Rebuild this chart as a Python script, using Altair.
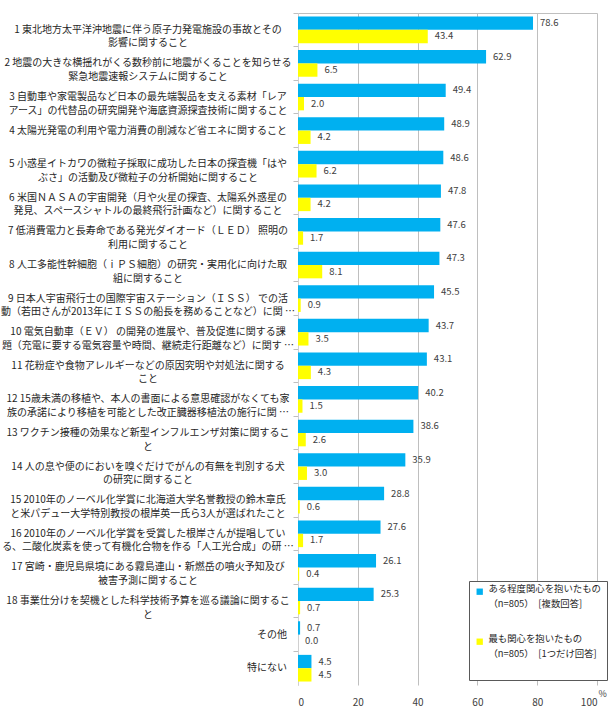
import json
import altair as alt
import pandas as pd

FONT = "Noto Sans CJK JP"

labels = [
    "1 東北地方太平洋沖地震に伴う原子力発電施設の事故とその\n影響に関すること",
    "2 地震の大きな横揺れがくる数秒前に地震がくることを知らせる\n緊急地震速報システムに関すること",
    "3 自動車や家電製品など日本の最先端製品を支える素材「レア\nアース」の代替品の研究開発や海底資源探査技術に関すること",
    "4 太陽光発電の利用や電力消費の削減など省エネに関すること",
    "5 小惑星イトカワの微粒子採取に成功した日本の探査機「はや\nぶさ」の活動及び微粒子の分析開始に関すること",
    "6 米国ＮＡＳＡの宇宙開発（月や火星の探査、太陽系外惑星の\n発見、スペースシャトルの最終飛行計画など）に関すること",
    "7 低消費電力と長寿命である発光ダイオード（ＬＥＤ） 照明の\n利用に関すること",
    "8 人工多能性幹細胞（ｉＰＳ細胞）の研究・実用化に向けた取\n組に関すること",
    "9 日本人宇宙飛行士の国際宇宙ステーション（ＩＳＳ） での活\n動（若田さんが2013年にＩＳＳの船長を務めることなど）に関 …",
    "10 電気自動車（ＥＶ） の開発の進展や、普及促進に関する課\n題（充電に要する電気容量や時間、継続走行距離など）に関す …",
    "11 花粉症や食物アレルギーなどの原因究明や対処法に関する\nこと",
    "12 15歳未満の移植や、本人の書面による意思確認がなくても家\n族の承諾により移植を可能とした改正臓器移植法の施行に関 …",
    "13 ワクチン接種の効果など新型インフルエンザ対策に関するこ\nと",
    "14 人の息や便のにおいを嗅ぐだけでがんの有無を判別する犬\nの研究に関すること",
    "15 2010年のノーベル化学賞に北海道大学名誉教授の鈴木章氏\nと米パデュー大学特別教授の根岸英一氏ら3人が選ばれたこと",
    "16 2010年のノーベル化学賞を受賞した根岸さんが提唱してい\nる、二酸化炭素を使って有機化合物を作る「人工光合成」の研 …",
    "17 宮崎・鹿児島県境にある霧島連山・新燃岳の噴火予知及び\n被害予測に関すること",
    "18 事業仕分けを契機とした科学技術予算を巡る議論に関するこ\nと",
    "その他",
    "特にない",
]

blue_values = [78.6, 62.9, 49.4, 48.9, 48.6, 47.8, 47.6, 47.3, 45.5, 43.7,
               43.1, 40.2, 38.6, 35.9, 28.8, 27.6, 26.1, 25.3, 0.7, 4.5]
yellow_values = [43.4, 6.5, 2.0, 4.2, 6.2, 4.2, 1.7, 8.1, 0.9, 3.5,
                 4.3, 1.5, 2.6, 3.0, 0.6, 1.7, 0.4, 0.7, 0.0, 4.5]

series_keys = ["multi", "single"]
series_legend = [
    ["ある程度関心を抱いたもの", "（n=805）　[複数回答]", ""],
    ["最も関心を抱いたもの", "（n=805）　[1つだけ回答]", ""],
]
series_colors = ["#00B0F0", "#FFFF00"]
x_ticks = [0, 20, 40, 60, 80, 100]

cat_ids = [f"c{i:02d}" for i in range(len(labels))]

rows = []
for i, cid in enumerate(cat_ids):
    rows.append({"cat": cid, "series": series_keys[0], "value": blue_values[i]})
    rows.append({"cat": cid, "series": series_keys[1], "value": yellow_values[i]})
df = pd.DataFrame(rows)

lab_df = pd.DataFrame({"cat": cat_ids, "label": labels})
lab_multi = lab_df[lab_df["label"].str.contains("\n")]
lab_single = lab_df[~lab_df["label"].str.contains("\n")]

x_scale = alt.Scale(domain=[0, 100], nice=False)
y_enc = alt.Y(
    "cat:N", sort=cat_ids,
    scale=alt.Scale(domain=cat_ids, paddingInner=0, paddingOuter=0),
    axis=alt.Axis(labels=False, ticks=True, bandPosition=0, tickSize=5,
                  tickColor="#bfbfbf", domainColor="#d0d0d0", grid=False, title=None),
)
yoff = alt.YOffset("series:N", sort=series_keys,
                   scale=alt.Scale(domain=series_keys, paddingInner=0, paddingOuter=0.26))

label_expr = (f"datum.value == {json.dumps(series_keys[0])} ? "
              f"{json.dumps(series_legend[0], ensure_ascii=False)} : "
              f"{json.dumps(series_legend[1], ensure_ascii=False)}")

bars = alt.Chart(df).mark_bar().encode(
    x=alt.X("value:Q", scale=x_scale,
            axis=alt.Axis(values=x_ticks, grid=True, gridColor="#bfbfbf", ticks=False,
                          domain=False, labelPadding=12, labelFontSize=10,
                          labelColor="#404040", title="%", titleX=300, titleY=8,
                          titleAngle=0, titleAlign="left", titleBaseline="middle",
                          titleFontSize=9, titleFontWeight="normal", titleColor="#404040")),
    y=y_enc,
    yOffset=yoff,
    color=alt.Color("series:N", scale=alt.Scale(domain=series_keys, range=series_colors),
                    legend=alt.Legend(orient="none", legendX=171, legendY=568, title=None,
                                      fillColor="white", strokeColor="#595959", padding=6,
                                      symbolType="square", symbolSize=40, symbolStrokeWidth=0,
                                      labelFontSize=9.4, labelColor="#262626", labelLimit=0,
                                      rowPadding=9, labelBaseline="alphabetic",
                                      labelOffset=4, labelExpr=label_expr)),
)

vals = alt.Chart(df).mark_text(align="left", baseline="middle", dx=7, fontSize=9.5,
                               color="#404040").encode(
    x=alt.X("value:Q", scale=x_scale,
            axis=alt.Axis(orient="top", labels=False, ticks=False, grid=False,
                          domain=True, domainColor="#bfbfbf", title=None)),
    y=y_enc,
    yOffset=yoff,
    text=alt.Text("value:Q", format=".1f"),
)

lab_c = alt.Chart(lab_multi).mark_text(align="center", baseline="middle", lineBreak="\n",
                                       lineHeight=13.5, fontSize=10, color="#262626").encode(
    y=y_enc, x=alt.value(-150), text="label:N")

lab_r = alt.Chart(lab_single).mark_text(align="right", baseline="middle", fontSize=10,
                                        color="#262626").encode(
    y=y_enc, x=alt.value(-11), text="label:N")

chart = alt.layer(bars, vals, lab_c, lab_r).resolve_axis(x="independent").properties(
    width=299, height=672,
    autosize=alt.AutoSizeParams(type="none"),
    padding={"left": 298, "top": 13, "right": 14, "bottom": 40},
).configure(
    font=FONT,
    style={"guide-label": {"lineHeight": 15}},
).configure_view(strokeWidth=0)

chart.save("out.html", embed_options={"renderer": "svg", "actions": False})
